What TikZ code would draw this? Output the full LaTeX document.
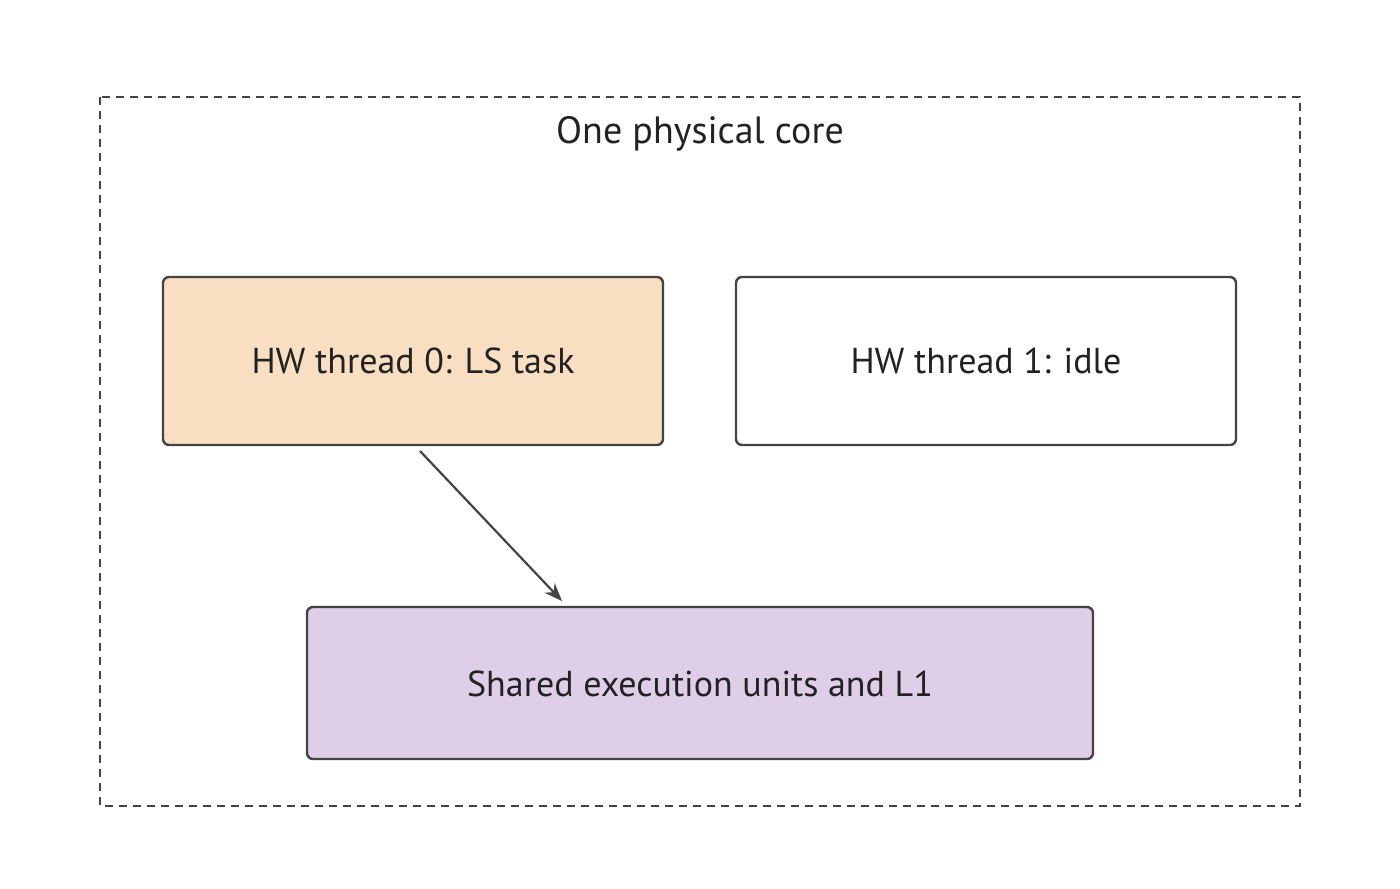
\documentclass[tikz,border=0pt]{standalone}
\usepackage{fontspec}
\setmainfont{PT Sans}
\usetikzlibrary{calc,arrows.meta}
\definecolor{edge}{HTML}{444444}
\definecolor{ink}{HTML}{222222}
\definecolor{lsfill}{HTML}{F9DFC1}
\definecolor{shfill}{HTML}{DFCEE8}
\tikzset{x=0.5pt, y=-0.5pt,
  core box/.style={draw=edge, line width=1.2pt, dash pattern=on 4pt off 3pt},
  thread box/.style={draw=edge, line width=1.2pt, rounded corners=3pt, fill=white},
  box text/.style={text=ink, font=\fontsize{18}{22}\selectfont},
  flow/.style={-{Stealth[length=9pt,width=7pt]}, draw=edge, line width=1.1pt}
}
\begin{document}
\begin{tikzpicture}
\useasboundingbox (0,0) rectangle (1400,888);
\draw[core box] (100,97) rectangle (1300,806);
\node (title) [box text, font=\fontsize{19}{23}\selectfont] at (700,134) {One physical core};
% threads
\draw[thread box, fill=lsfill] (163,277) rectangle (663,445);
\node (t0) [box text] at (413,361) {HW thread 0: LS task};
\draw[thread box] (736,277) rectangle (1236,445);
\node (t1) [box text] at (986,361) {HW thread 1: idle};
% shared units
\draw[thread box, fill=shfill] (307,607) rectangle (1093,759);
\node (sh) [box text] at (700,684) {Shared execution units and L1};
\coordinate (a0) at (420,451);
\coordinate (a1) at (562,601);
\draw[flow] (a0) -- (a1);
\end{tikzpicture}
\end{document}
